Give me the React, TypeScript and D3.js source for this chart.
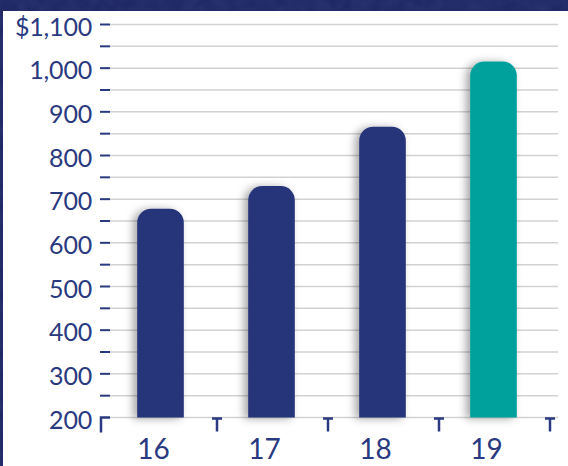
import React from "react";
import * as d3 from "d3";

const categories = ["16", "17", "18", "19"];
const values = [678, 730, 866, 1015];
const barColors = ["#273679", "#273679", "#273679", "#00a19c"];
const majorTicks = [200, 300, 400, 500, 600, 700, 800, 900, 1000, 1100];
const minorTicks = [250, 350, 450, 550, 650, 750, 850, 950, 1050];
const tickLabel = (v: number) => (v === 1100 ? "$1,100" : d3.format(",")(v));

const W = 568;
const H = 466;
const NAVY = "#2a3a80";
const FONT = "Lato, 'Noto Sans', sans-serif";

export default function App() {
  const y = d3.scaleLinear().domain([200, 1100]).range([417.5, 24.5]);
  const x = d3.scaleBand<string>().domain(categories).range([105, 549]).paddingInner(0.58).paddingOuter(0.29);
  const step = x.step();
  const bw = x.bandwidth();
  const r = 14;
  const barPath = (xl: number, top: number, w: number, bottom: number) => {
    const p = d3.path();
    p.moveTo(xl, bottom);
    p.lineTo(xl, top + r);
    p.arcTo(xl, top, xl + r, top, r);
    p.lineTo(xl + w - r, top);
    p.arcTo(xl + w, top, xl + w, top + r, r);
    p.lineTo(xl + w, bottom);
    p.closePath();
    return p.toString();
  };
  const base = y(200);
  const allTicks = [...majorTicks, ...minorTicks];
  return (
    <svg width={W} height={H} style={{ position: "absolute", left: 0, top: 0 }}>
      <defs>
        <filter id="sh" x="-50%" y="-20%" width="200%" height="140%">
          <feDropShadow dx={-4} dy={1} stdDeviation={4} floodColor="#000" floodOpacity={0.35} />
        </filter>
        <filter id="tex">
          <feTurbulence type="fractalNoise" baseFrequency="0.08" numOctaves={2} result="n" />
          <feColorMatrix type="matrix" values="0 0 0 0 0.1  0 0 0 0 0.13  0 0 0 0 0.38  0 0 0 0.25 0" />
        </filter>
      </defs>
      <rect x={0} y={0} width={W} height={H} fill="#1b2460" />
      <rect x={0} y={0} width={W} height={H} filter="url(#tex)" />
      <rect x={3} y={11} width={W - 3} height={H - 11} fill="#ffffff" />
      {allTicks.map((t) => (
        <g key={t}>
          <line x1={110} x2={558} y1={y(t)} y2={y(t)} stroke="#d2d2d2" strokeWidth={1.5} />
          {t !== 200 && (
            <line x1={100} x2={110} y1={y(t)} y2={y(t)} stroke={NAVY} strokeWidth={2} />
          )}
        </g>
      ))}
      {majorTicks.map((t) => (
        <text
          key={t}
          x={92}
          y={y(t) + 1}
          textAnchor="end"
          dominantBaseline="central"
          fontFamily={FONT}
          fontWeight={400}
          fontSize={25}
          letterSpacing={-0.2}
          fill={NAVY}
        >
          {tickLabel(t)}
        </text>
      ))}
      <path d={`M${101},${base + 15} L${101},${base} L${110},${base}`} fill="none" stroke={NAVY} strokeWidth={2.5} />
      {categories.map((c) => {
        const xe = (x(c) as number) + bw + (step - bw) / 2 + 1;
        return (
          <path
            key={"t" + c}
            d={`M${xe - 5},${base + 1} L${xe + 5},${base + 1} M${xe},${base + 1} L${xe},${base + 14}`}
            fill="none"
            stroke={NAVY}
            strokeWidth={2.5}
          />
        );
      })}
      {categories.map((c, i) => (
        <path
          key={c}
          d={barPath(x(c) as number, y(values[i]), bw, base)}
          fill={barColors[i]}
          filter="url(#sh)"
        />
      ))}
      {categories.map((c) => (
        <text
          key={"l" + c}
          x={(x(c) as number) + bw / 2 - 7}
          y={448}
          textAnchor="middle"
          dominantBaseline="central"
          fontFamily={FONT}
          fontWeight={400}
          fontSize={28}
          fill={NAVY}
        >
          {c}
        </text>
      ))}
    </svg>
  );
}
